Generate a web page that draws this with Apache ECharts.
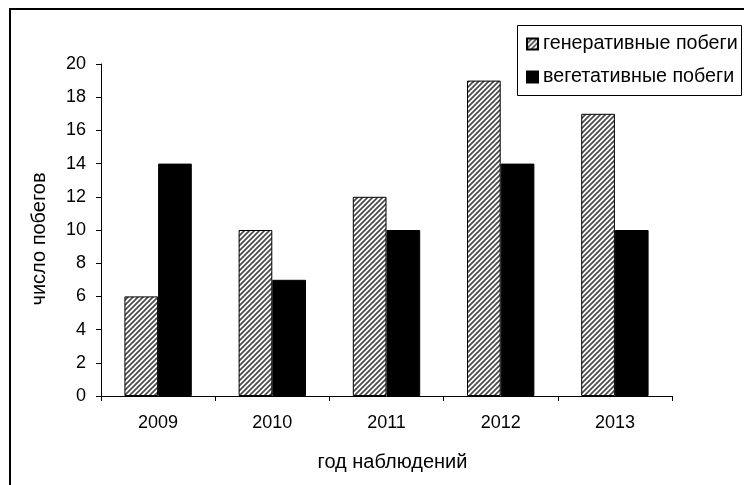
<!DOCTYPE html>
<html>
<head>
<meta charset="utf-8">
<script src="https://cdn.jsdelivr.net/npm/echarts@6/dist/echarts.min.js"></script>
<style>
  html, body { margin: 0; padding: 0; background: #fff; }
  #chart { width: 744px; height: 485px; }
</style>
</head>
<body>
<div id="chart"></div>
<script>
// Observation years and shoot counts
const years = ['2009', '2010', '2011', '2012', '2013'];
const generativeShoots = [6, 10, 12, 19, 17];
const vegetativeShoots = [14, 7, 10, 14, 10];
const yTicks = [0, 2, 4, 6, 8, 10, 12, 14, 16, 18, 20];

const seriesNames = ['генеративные побеги', 'вегетативные побеги'];
const FONT = '"Liberation Sans", Arial, sans-serif';

// Diagonal hatch fill for the generative shoots bars
function makeHatch() {
  const c = document.createElement('canvas');
  const s = 5;
  c.width = s; c.height = s;
  const g = c.getContext('2d');
  g.fillStyle = '#ffffff';
  g.fillRect(0, 0, s, s);
  g.strokeStyle = '#4a4a4a';
  g.lineWidth = 1.7;
  g.beginPath();
  g.moveTo(-1, s + 1); g.lineTo(s + 1, -1);
  g.moveTo(-1, 1); g.lineTo(1, -1);
  g.moveTo(s - 1, s + 1); g.lineTo(s + 1, s - 1);
  g.stroke();
  return c;
}
const hatch = { image: makeHatch(), repeat: 'repeat' };

const chart = echarts.init(document.getElementById('chart'), null, { renderer: 'canvas' });

chart.setOption({
  animation: false,
  backgroundColor: '#ffffff',
  textStyle: { fontFamily: FONT },
  graphic: [{
    type: 'rect',
    shape: { x: 10, y: 9, width: 900, height: 700 },
    style: { fill: 'none', stroke: '#000', lineWidth: 2 },
    silent: true,
    z: -1
  }, {
    type: 'rect',
    shape: { x: 517.5, y: 25.5, width: 224, height: 70 },
    style: { fill: '#fff', stroke: '#000', lineWidth: 1 },
    silent: true,
    z: 5
  }],
  legend: {
    orient: 'vertical',
    left: 521,
    top: 29,
    itemGap: 13,
    itemWidth: 11,
    itemHeight: 11,
    icon: 'rect',
    z: 10,
    textStyle: { fontFamily: FONT, fontSize: 19.7, color: '#000' },
    data: seriesNames
  },
  grid: { left: 101, right: 72, top: 64, bottom: 89, containLabel: false },
  xAxis: {
    type: 'category',
    data: years,
    name: 'год наблюдений',
    nameLocation: 'middle',
    nameGap: 56,
    nameTextStyle: { fontFamily: FONT, fontSize: 20, color: '#000', padding: [0, 0, 0, 12] },
    axisLine: { lineStyle: { color: '#000', width: 1 } },
    axisTick: { show: true, alignWithLabel: false, length: 5, lineStyle: { color: '#000' } },
    axisLabel: { fontFamily: FONT, fontSize: 18, color: '#000', margin: 18 }
  },
  yAxis: {
    type: 'value',
    min: yTicks[0],
    max: yTicks[yTicks.length - 1],
    interval: yTicks[1] - yTicks[0],
    name: 'число побегов',
    nameLocation: 'middle',
    nameGap: 52,
    nameRotate: 90,
    nameTextStyle: { fontFamily: FONT, fontSize: 20, color: '#000', padding: [0, 18, 0, 0] },
    axisLine: { show: true, lineStyle: { color: '#000', width: 1 } },
    axisTick: { show: true, length: 5, lineStyle: { color: '#000' } },
    axisLabel: { fontFamily: FONT, fontSize: 18, color: '#000', margin: 15 },
    splitLine: { show: false }
  },
  series: [{
    name: seriesNames[0],
    type: 'bar',
    data: generativeShoots,
    barGap: '0%',
    barCategoryGap: '41%',
    itemStyle: { color: hatch, borderColor: '#000', borderWidth: 1 }
  }, {
    name: seriesNames[1],
    type: 'bar',
    data: vegetativeShoots,
    barGap: '0%',
    barCategoryGap: '41%',
    itemStyle: { color: '#000', borderColor: '#000', borderWidth: 1 }
  }]
});
</script>
</body>
</html>
